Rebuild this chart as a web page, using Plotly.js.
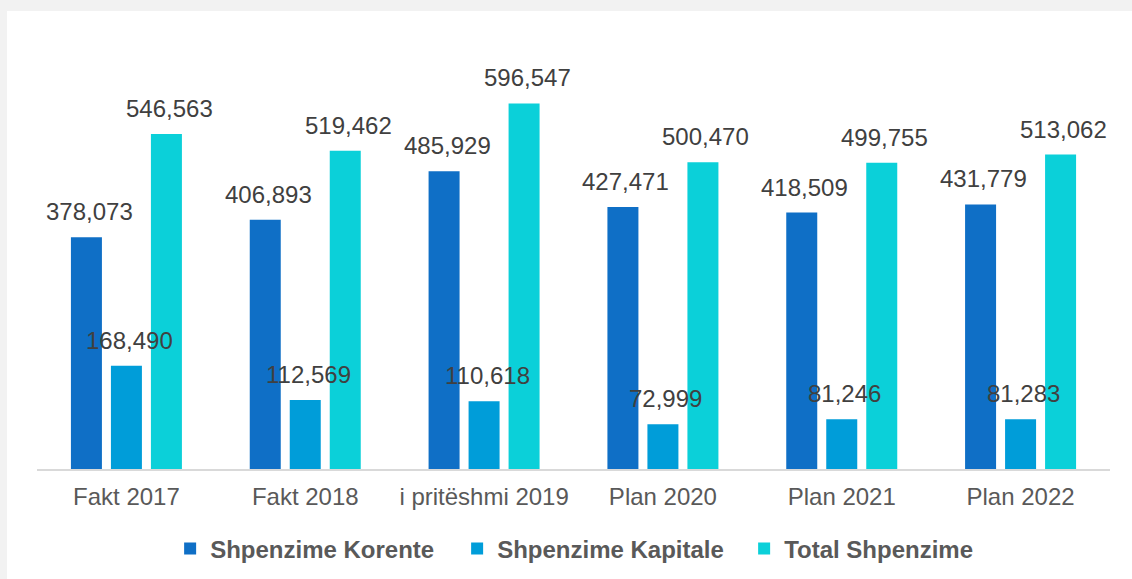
<!DOCTYPE html>
<html>
<head>
<meta charset="utf-8">
<script src="https://cdn.plot.ly/plotly-3.0.1.min.js"></script>
<style>
  html, body { margin: 0; padding: 0; background: #f2f2f2; width: 1132px; height: 579px; overflow: hidden; }
  #chart { position: absolute; left: 7px; top: 11px; width: 1125px; height: 568px; background: #ffffff; }
</style>
</head>
<body>
<div id="chart"></div>
<script>
const categories = ["Fakt 2017", "Fakt 2018", "i pritëshmi 2019", "Plan 2020", "Plan 2021", "Plan 2022"];
const seriesNames = ["Shpenzime Korente", "Shpenzime Kapitale", "Total Shpenzime"];
const korente = [378073, 406893, 485929, 427471, 418509, 431779];
const kapitale = [168490, 112569, 110618, 72999, 81246, 81283];
const total = [546563, 519462, 596547, 500470, 499755, 513062];
const colors = ["#0f6fc6", "#009dd9", "#0bd0d9"];

const seriesValues = [korente, kapitale, total];
const fmt = v => v.toLocaleString("en-US");

const traces = seriesValues.map((vals, i) => ({
  type: "bar",
  name: seriesNames[i],
  x: categories,
  y: vals,
  marker: { color: colors[i] },
  hoverinfo: "x+y+name"
}));

const annotations = [];
seriesValues.forEach((vals, i) => {
  vals.forEach((v, j) => {
    annotations.push({
      x: categories[j], y: v, xref: "x", yref: "y",
      text: fmt(v), showarrow: false,
      xanchor: "center", yanchor: "bottom",
      xshift: (i - 1) * 40 + 3, yshift: 10,
      font: { family: "Liberation Sans, Arial, sans-serif", size: 24, color: "#404040" }
    });
  });
});

const layout = {
  width: 1125, height: 568,
  paper_bgcolor: "#ffffff", plot_bgcolor: "#ffffff",
  margin: { l: 30, r: 22, t: 29, b: 110 },
  barmode: "group", bargap: 0.329, bargroupgap: 0.225,
  font: { family: "Liberation Sans, Arial, sans-serif", color: "#595959" },
  xaxis: {
    type: "category",
    showline: true, linecolor: "#d9d9d9", linewidth: 2,
    showgrid: false, zeroline: false, ticks: "",
    ticklabelstandoff: 5,
    tickfont: { size: 24, color: "#595959" }
  },
  yaxis: {
    range: [0, 700000], visible: false, showgrid: false, zeroline: false
  },
  showlegend: true,
  legend: {
    orientation: "h",
    xref: "container", yref: "container",
    x: 0.145, y: 0.053, xanchor: "left", yanchor: "middle",
    font: { size: 24, color: "#595959", weight: "bold" },
    entrywidth: 242, entrywidthmode: "pixels",
    traceorder: "normal"
  },
  annotations: annotations
};

Plotly.newPlot("chart", traces, layout, { displayModeBar: false, staticPlot: true });
</script>
</body>
</html>
